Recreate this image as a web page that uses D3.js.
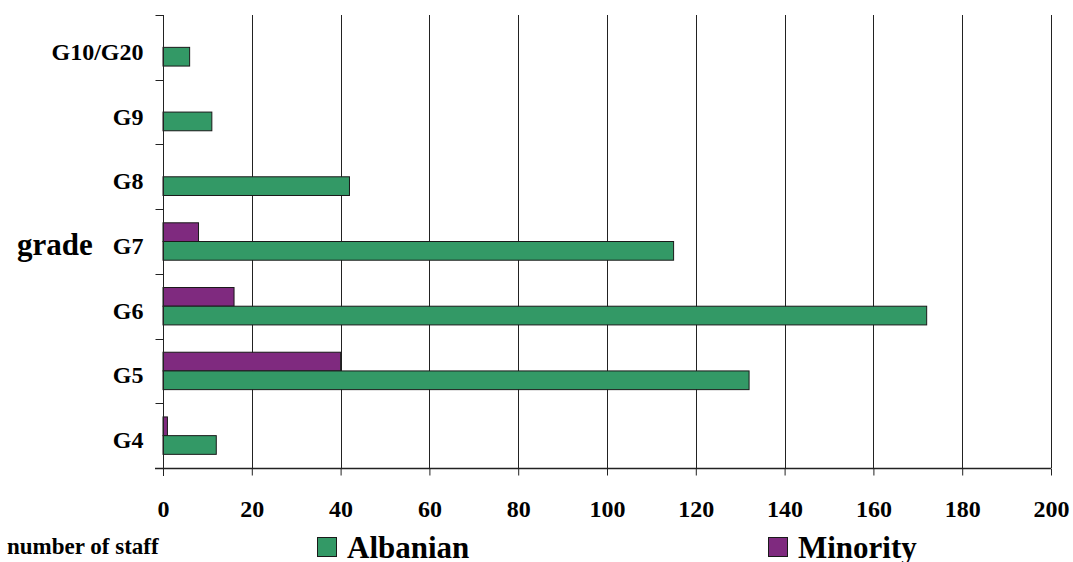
<!DOCTYPE html>
<html>
<head>
<meta charset="utf-8">
<script src="https://cdn.jsdelivr.net/npm/d3@7"></script>
<style>
  html, body { margin: 0; padding: 0; background: #fff; }
  svg { display: block; }
  text { font-family: "Liberation Serif", "Times New Roman", serif; font-weight: bold; fill: #000; }
</style>
</head>
<body>
<svg id="chart" width="1073" height="562"></svg>
<script>
// Staff numbers per grade, split by community
const grades = ["G10/G20", "G9", "G8", "G7", "G6", "G5", "G4"];
const albanian = [6, 11, 42, 115, 172, 132, 12];
const minority = [0, 0, 0, 8, 16, 40, 1];
const xTicks = [0, 20, 40, 60, 80, 100, 120, 140, 160, 180, 200];
const seriesNames = ["Minority", "Albanian"];
const seriesColors = { Albanian: "#339966", Minority: "#7f2a7f" };

const svg = d3.select("#chart");

const x = d3.scaleLinear().domain([0, 200]).range([163, 1051]);
const y = d3.scaleBand().domain(grades).range([15, 468]).paddingInner(0).paddingOuter(0);
const ySub = d3.scaleBand().domain(seriesNames).range([0, y.bandwidth()]).paddingInner(0).paddingOuter(0.73);

// vertical gridlines
svg.append("g")
  .selectAll("line")
  .data(xTicks.filter(d => d > 0))
  .join("line")
  .attr("x1", d => Math.round(x(d)) + 0.5)
  .attr("x2", d => Math.round(x(d)) + 0.5)
  .attr("y1", 15)
  .attr("y2", 468)
  .attr("stroke", "#222")
  .attr("stroke-width", 1);

// bars
const rows = grades.map((g, i) => ({ grade: g, Albanian: albanian[i], Minority: minority[i] }));
const groups = svg.append("g").selectAll("g")
  .data(rows)
  .join("g")
  .attr("transform", d => `translate(0,${y(d.grade)})`);

groups.selectAll("rect")
  .data(d => seriesNames.map(k => ({ key: k, value: d[k] })).filter(e => e.value > 0))
  .join("rect")
  .attr("x", x(0))
  .attr("y", d => ySub(d.key))
  .attr("width", d => x(d.value) - x(0))
  .attr("height", ySub.bandwidth())
  .attr("fill", d => seriesColors[d.key])
  .attr("stroke", "#1a1a1a")
  .attr("stroke-width", 1);

// x axis
const xAxis = d3.axisBottom(x).tickValues(xTicks).tickSize(7).tickPadding(24).tickSizeOuter(0);
const gx = svg.append("g")
  .attr("transform", "translate(0,468.5)")
  .call(xAxis);
gx.select(".domain").remove();
gx.append("line").attr("x1", 155).attr("x2", 1051).attr("y1", 0).attr("y2", 0)
  .attr("stroke", "#222").attr("stroke-width", 1.5);
gx.selectAll(".tick line").attr("stroke", "#222");
gx.selectAll(".tick text")
  .style("font-family", "'Liberation Serif', 'Times New Roman', serif")
  .style("font-weight", "bold")
  .style("font-size", "24px")
  .attr("fill", "#000");

// y axis
const yAxis = d3.axisLeft(y).tickSize(0).tickPadding(20);
const gy = svg.append("g")
  .attr("transform", "translate(163.5,0)")
  .call(yAxis);
gy.select(".domain").attr("stroke", "#222").attr("d", "M0,15V476");
gy.selectAll(".tick text")
  .style("font-family", "'Liberation Serif', 'Times New Roman', serif")
  .style("font-weight", "bold")
  .style("font-size", "24px")
  .attr("fill", "#000")
  .attr("dy", "0.52em");
// category separators on the y axis
gy.append("g").selectAll("line")
  .data(grades.map(g => y(g)).concat([y.range()[1]]))
  .join("line")
  .attr("x1", -8).attr("x2", 0)
  .attr("y1", d => Math.round(d) + 0.5).attr("y2", d => Math.round(d) + 0.5)
  .attr("stroke", "#222");

// axis titles
svg.append("text").attr("x", 17).attr("y", 255).style("font-size", "31px").text("grade");
svg.append("text").attr("x", 7).attr("y", 554).style("font-size", "23px").text("number of staff");

// legend
const legend = [
  { name: "Albanian", x: 317 },
  { name: "Minority", x: 768 }
];
const lg = svg.append("g").selectAll("g").data(legend).join("g")
  .attr("transform", d => `translate(${d.x},537)`);
lg.append("rect").attr("x", 0.5).attr("y", 0.5).attr("width", 19).attr("height", 19)
  .attr("fill", d => seriesColors[d.name]).attr("stroke", "#1a1a1a");
lg.append("text").attr("x", 30).attr("y", 21).style("font-size", "31px").text(d => d.name);
</script>
</body>
</html>
